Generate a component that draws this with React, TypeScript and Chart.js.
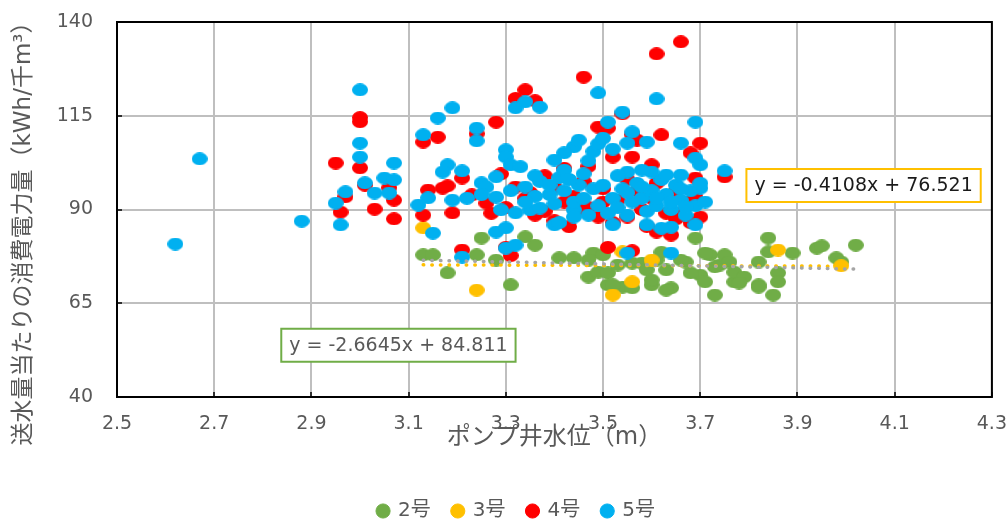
import React, { useEffect, useRef } from 'react';
import { Chart, registerables } from 'chart.js';

Chart.register(...registerables);

// ---------- data ----------
const seriesNames = ['2号', '3号', '4号', '5号'];
const seriesColors = ['#70AD47', '#FFC000', '#FF0000', '#00B0F0'];

const unit2Points: [number, number][] = [
  [3.13, 77.9], [3.15, 77.9], [3.18, 73.1], [3.25, 82.4], [3.24, 77.9], [3.28, 76.5], [3.34, 82.7], [3.36, 80.5],
  [3.31, 69.9], [3.41, 77.1], [3.44, 77.1], [3.48, 78.4], [3.47, 72.0], [3.49, 73.3], [3.51, 73.1], [3.51, 69.9],
  [3.53, 75.2], [3.54, 69.3], [3.56, 69.1], [3.60, 69.9], [3.60, 71.2], [3.64, 69.1], [3.67, 76.0], [3.69, 82.4],
  [3.70, 72.5], [3.71, 70.7], [3.73, 67.2], [3.72, 77.9], [3.74, 75.2], [3.75, 77.9], [3.76, 76.0], [3.77, 70.7],
  [3.77, 73.3], [3.79, 72.0], [3.82, 76.0], [3.82, 69.9], [3.84, 82.4], [3.84, 78.7], [3.85, 67.2], [3.86, 73.1],
  [3.86, 70.7], [3.89, 78.4], [3.94, 79.7], [3.95, 80.3], [3.98, 77.1], [3.99, 76.0], [4.02, 80.5], [3.56, 75.7],
  [3.58, 75.7], [3.61, 76.5], [3.63, 73.9], [3.66, 76.5], [3.68, 73.1], [3.71, 78.4], [3.73, 74.7], [3.78, 70.4],
  [3.82, 69.3], [3.59, 73.9], [3.52, 69.9], [3.50, 77.9], [3.47, 76.5], [3.62, 78.6], [3.63, 68.5],
];

const unit3Points: [number, number][] = [
  [3.13, 85.1], [3.24, 68.5], [3.52, 67.2], [3.54, 78.7], [3.60, 76.5], [3.56, 70.7], [3.86, 79.2], [3.99, 75.0],
];

const unit4Points: [number, number][] = [
  [2.95, 102.4], [2.96, 89.3], [3.00, 114.5], [3.00, 113.4], [3.00, 101.1], [3.01, 96.5], [2.97, 93.4], [3.03, 90.1],
  [3.07, 92.5], [3.07, 87.5], [3.06, 95.8], [3.13, 108.0], [3.16, 109.3], [3.14, 95.2], [3.17, 95.7], [3.18, 96.3],
  [3.13, 88.5], [3.19, 89.1], [3.21, 98.4], [3.24, 110.2], [3.28, 113.3], [3.34, 121.9], [3.32, 119.6], [3.36, 119.0],
  [3.23, 93.9], [3.26, 91.7], [3.27, 89.0], [3.21, 79.2], [3.30, 79.9], [3.31, 77.7], [3.30, 90.5], [3.32, 96.0],
  [3.35, 94.5], [3.36, 88.5], [3.38, 99.0], [3.40, 96.0], [3.42, 92.0], [3.44, 93.5], [3.40, 87.0], [3.43, 85.4],
  [3.46, 125.3], [3.47, 101.5], [3.49, 112.0], [3.47, 90.5], [3.49, 88.0], [3.50, 95.5], [3.51, 79.9], [3.52, 104.0],
  [3.53, 92.5], [3.55, 98.0], [3.55, 88.0], [3.56, 104.0], [3.56, 110.0], [3.57, 95.0], [3.58, 90.0], [3.59, 85.5],
  [3.60, 101.9], [3.60, 93.0], [3.61, 97.0], [3.61, 131.5], [3.62, 109.9], [3.63, 89.0], [3.64, 83.2], [3.65, 95.0],
  [3.65, 87.5], [3.66, 134.7], [3.67, 92.0], [3.68, 105.1], [3.69, 98.4], [3.69, 93.3], [3.70, 107.7], [3.75, 98.7],
  [3.70, 88.0], [3.54, 115.5], [3.38, 89.5], [3.29, 99.5], [3.42, 101.0], [3.46, 97.5], [3.52, 86.5], [3.61, 84.0],
  [3.66, 89.0], [3.68, 86.5], [3.56, 79.0], [3.51, 111.7], [3.57, 108.5], [3.34, 93.0], [3.45, 90.0], [3.50, 92.0],
];

const unit5Points: [number, number][] = [
  [2.62, 80.8], [2.67, 103.5], [2.88, 86.9], [2.95, 91.7], [2.96, 85.9], [2.97, 94.7], [3.00, 121.9], [3.00, 107.7],
  [3.00, 104.0], [3.01, 97.1], [3.03, 94.4], [3.05, 98.4], [3.07, 102.4], [3.07, 97.9], [3.06, 94.4],
  [3.12, 91.2], [3.13, 109.9], [3.14, 93.1], [3.15, 83.7], [3.16, 114.4], [3.18, 101.9], [3.17, 100.0], [3.19, 117.1],
  [3.19, 92.5], [3.21, 100.3], [3.24, 111.7], [3.24, 108.3], [3.25, 97.1], [3.28, 98.7], [3.28, 93.3], [3.29, 89.9],
  [3.30, 105.9], [3.30, 104.0], [3.32, 117.1], [3.34, 118.7], [3.37, 117.3], [3.31, 101.9], [3.33, 101.4], [3.28, 84.0],
  [3.30, 85.1], [3.32, 89.1], [3.35, 89.9], [3.37, 90.4], [3.40, 85.9], [3.41, 86.5], [3.44, 89.9], [3.21, 77.3],
  [3.30, 79.7], [3.32, 80.5], [3.34, 96.0], [3.36, 93.5], [3.37, 97.5], [3.39, 94.0], [3.40, 91.5], [3.41, 98.5],
  [3.42, 95.0], [3.44, 92.0], [3.45, 96.5], [3.46, 99.5], [3.47, 103.0], [3.48, 105.5], [3.49, 107.5], [3.50, 109.0],
  [3.46, 93.0], [3.48, 95.5], [3.49, 91.0], [3.51, 89.0], [3.52, 93.0], [3.53, 90.5], [3.54, 95.5], [3.55, 88.5],
  [3.56, 92.0], [3.57, 97.0], [3.58, 93.0], [3.59, 89.5], [3.60, 95.0], [3.61, 91.0], [3.62, 98.0], [3.63, 94.0],
  [3.64, 90.0], [3.65, 96.5], [3.66, 92.5], [3.67, 88.5], [3.68, 95.0], [3.69, 91.0], [3.60, 100.0], [3.63, 99.2],
  [3.66, 99.2], [3.55, 100.0], [3.58, 100.5], [3.49, 121.1], [3.61, 119.5], [3.54, 116.0], [3.51, 113.3], [3.56, 110.7],
  [3.55, 107.7], [3.59, 108.0], [3.66, 107.7], [3.69, 113.3], [3.52, 106.1], [3.69, 103.7], [3.70, 101.9], [3.75, 100.3],
  [3.70, 95.7], [3.71, 92.0], [3.67, 90.7], [3.69, 85.9], [3.64, 85.3], [3.62, 85.0], [3.59, 85.9], [3.52, 85.9],
  [3.55, 78.4], [3.64, 78.4], [3.42, 100.5], [3.43, 98.0], [3.39, 96.5], [3.36, 99.0], [3.34, 92.0], [3.31, 95.0],
  [3.26, 96.0], [3.25, 94.0], [3.22, 93.0], [3.44, 88.0], [3.47, 88.5], [3.50, 96.5], [3.53, 99.0], [3.55, 94.5],
  [3.58, 96.0], [3.61, 93.0], [3.64, 92.0], [3.66, 95.5], [3.70, 97.0], [3.44, 106.7], [3.45, 108.5], [3.42, 105.1],
  [3.40, 103.2],
];

const allSeries = [unit2Points, unit3Points, unit4Points, unit5Points];

// trendlines (as printed in the chart)
const trendSeriesIndex = [0, 1];
const trendSlopes = [-2.6645, -0.4108];
const trendIntercepts = [84.811, 76.521];
const trendColors = ['#A5A5A5', '#FFC000'];
const trendLabels = ['y = -2.6645x + 84.811', 'y = -0.4108x + 76.521'];
const trendLabelBorder = ['#70AD47', '#FFC000'];
const trendLabelText = ['#595959', '#1A1A1A'];
const trendLabelAnchorX = [3.079, 4.036];
const trendLabelAnchorY = [53.8, 96.4];

const xTickValues = [2.5, 2.7, 2.9, 3.1, 3.3, 3.5, 3.7, 3.9, 4.1, 4.3];
const yTickValues = [40, 65, 90, 115, 140];

const xTitle = 'ポンプ井水位（m）';
const yTitle = '送水量当たりの消費電力量（kWh/千m³）';

const FONT = '"DejaVu Sans", "Noto Sans CJK JP", sans-serif';
const GRAY_TEXT = '#595959';

function makeEllipse(color: string): HTMLCanvasElement {
  const c = document.createElement('canvas');
  c.width = 16;
  c.height = 13;
  const ctx = c.getContext('2d')!;
  ctx.fillStyle = color;
  ctx.beginPath();
  ctx.ellipse(8, 6.5, 8, 6.5, 0, 0, Math.PI * 2);
  ctx.fill();
  return c;
}

const overlayPlugin = {
  id: 'overlay',
  afterDatasetsDraw(chart: any) {
    const { ctx, chartArea } = chart;
    const { left, top, right, bottom } = chartArea;
    const xs = chart.scales.x;
    const ys = chart.scales.y;
    ctx.save();
    ctx.strokeStyle = '#000';
    ctx.lineWidth = 1.5;
    ctx.beginPath();
    xTickValues.forEach((v) => {
      const px = Math.round(xs.getPixelForValue(v));
      ctx.moveTo(px, bottom);
      ctx.lineTo(px, bottom - 5);
    });
    yTickValues.forEach((v) => {
      const py = Math.round(ys.getPixelForValue(v));
      ctx.moveTo(left, py);
      ctx.lineTo(left + 5, py);
    });
    ctx.stroke();
    ctx.lineWidth = 2;
    ctx.strokeRect(left, top, right - left, bottom - top);
    ctx.restore();
  },
  afterDraw(chart: any) {
    const { ctx } = chart;
    const xs = chart.scales.x;
    const ys = chart.scales.y;
    ctx.save();
    ctx.font = `19px ${FONT}`;
    ctx.textAlign = 'center';
    ctx.textBaseline = 'middle';
    trendLabels.forEach((label, i) => {
      const cx = xs.getPixelForValue(trendLabelAnchorX[i]);
      const cy = ys.getPixelForValue(trendLabelAnchorY[i]);
      const tw = ctx.measureText(label).width;
      const w = tw + 16;
      const h = 33;
      ctx.fillStyle = '#fff';
      ctx.fillRect(cx - w / 2, cy - h / 2, w, h);
      ctx.strokeStyle = trendLabelBorder[i];
      ctx.lineWidth = 2;
      ctx.strokeRect(cx - w / 2, cy - h / 2, w, h);
      ctx.fillStyle = trendLabelText[i];
      ctx.fillText(label, cx, cy + 1);
    });
    // vertical axis title
    ctx.translate(24, 228);
    ctx.rotate(-Math.PI / 2);
    ctx.font = `23px ${FONT}`;
    ctx.fillStyle = GRAY_TEXT;
    ctx.fillText(yTitle, 0, 0);
    ctx.restore();
  },
};

export default function App() {
  const ref = useRef<HTMLCanvasElement | null>(null);

  useEffect(() => {
    if (!ref.current) return;
    const scatterSets = allSeries.map((pts, i) => ({
      type: 'scatter' as const,
      label: seriesNames[i],
      data: pts.map(([x, y]) => ({ x, y })),
      backgroundColor: seriesColors[i],
      borderColor: seriesColors[i],
      pointStyle: makeEllipse(seriesColors[i]),
      pointRadius: 7,
      order: 4 - i,
    }));
    const trendSets = trendSeriesIndex.map((si, k) => {
      const xsVals = allSeries[si].map((p) => p[0]);
      const x0 = Math.min(...xsVals);
      const x1 = Math.max(...xsVals);
      return {
        type: 'line' as const,
        label: 'trend' + k,
        data: [
          { x: x0, y: trendSlopes[k] * x0 + trendIntercepts[k] },
          { x: x1, y: trendSlopes[k] * x1 + trendIntercepts[k] },
        ],
        borderColor: trendColors[k],
        backgroundColor: trendColors[k],
        borderWidth: 3.5,
        borderDash: [0.5, 8.1],
        borderCapStyle: 'round' as const,
        pointRadius: 0,
        fill: false,
        showLine: true,
        order: -1,
      };
    });

    const chart = new Chart(ref.current, {
      type: 'scatter',
      data: { datasets: [...scatterSets, ...trendSets] as any },
      options: {
        animation: false,
        responsive: false,
        devicePixelRatio: 1,
        events: [],
        layout: { padding: { left: 26, right: 0, top: 22, bottom: -8 } },
        scales: {
          x: {
            type: 'linear',
            min: 2.5,
            max: 4.3,
            afterBuildTicks: (s: any) => {
              s.ticks = xTickValues.map((v) => ({ value: v }));
            },
            afterFit: (s: any) => {
              s.height = 82;
            },
            ticks: {
              padding: 0,
              color: GRAY_TEXT,
              font: { family: FONT, size: 19 },
              callback: (v: any) => Number(v).toFixed(1),
              maxRotation: 0,
              autoSkip: false,
            },
            grid: { color: '#BFBFBF', lineWidth: 2, drawTicks: true, tickLength: 16, tickColor: 'rgba(0,0,0,0)' },
            border: { display: false },
            title: {
              display: true,
              text: xTitle,
              color: GRAY_TEXT,
              font: { family: FONT, size: 24 },
              padding: { top: 0, bottom: 27 },
            },
          },
          y: {
            type: 'linear',
            min: 40,
            max: 140,
            afterBuildTicks: (s: any) => {
              s.ticks = yTickValues.map((v) => ({ value: v }));
            },
            afterFit: (s: any) => {
              s.width = 91;
            },
            ticks: {
              padding: 0,
              color: GRAY_TEXT,
              font: { family: FONT, size: 19 },
              autoSkip: false,
            },
            grid: { color: '#BFBFBF', lineWidth: 2, drawTicks: true, tickLength: 24, tickColor: 'rgba(0,0,0,0)' },
            border: { display: false },
            title: { display: false },
          },
        },
        plugins: {
          legend: {
            position: 'bottom',
            labels: {
              usePointStyle: true,
              pointStyle: 'circle',
              boxWidth: 10,
              boxHeight: 10,
              padding: 22,
              color: GRAY_TEXT,
              font: { family: FONT, size: 20 },
              filter: (item: any) => item.datasetIndex < 4,
              sort: (a: any, b: any) => a.datasetIndex - b.datasetIndex,
            },
          },
          tooltip: { enabled: false },
        },
      },
      plugins: [overlayPlugin],
    });
    return () => chart.destroy();
  }, []);

  return (
    <div style={{ position: 'absolute', left: 0, top: 0, width: 1007, height: 523, background: '#fff' }}>
      <canvas ref={ref} width={1007} height={523} style={{ display: 'block', width: 1007, height: 523 }} />
    </div>
  );
}
